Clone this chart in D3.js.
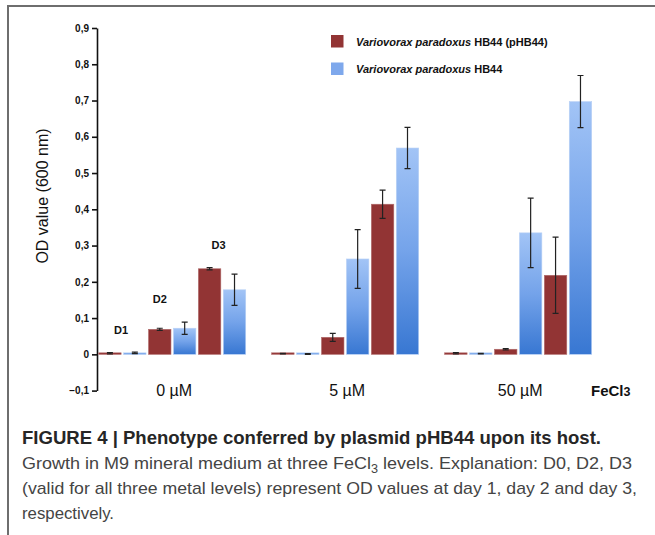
<!DOCTYPE html>
<html>
<head>
<meta charset="utf-8">
<script src="https://cdn.jsdelivr.net/npm/d3@7"></script>
<style>
  body { margin: 0; background: #fff; }
  svg { display: block; font-family: "Liberation Sans", Arial, sans-serif; }
</style>
</head>
<body>
<div id="chart"></div>
<script>
// data
const levels = ["0 µM", "5 µM", "50 µM"];
const days = ["D1", "D2", "D3"];
const strains = ["pHB44", "HB44"];
// mean OD per level, order: D1 pHB44, D1 HB44, D2 pHB44, D2 HB44, D3 pHB44, D3 HB44
const odMeans = [
    [0.003, 0.004, 0.069, 0.072, 0.236, 0.178],
    [0.002, 0.001, 0.047, 0.263, 0.414, 0.569],
    [0.003, 0.002, 0.014, 0.335, 0.218, 0.697]
];
const odErrors = [
    [0.002, 0.002, 0.003, 0.017, 0.003, 0.043],
    [0.001, 0.001, 0.011, 0.081, 0.039, 0.057],
    [0.002, 0.001, 0.002, 0.096, 0.105, 0.072]
];
const yTicks = [-0.1, 0, 0.1, 0.2, 0.3, 0.4, 0.5, 0.6, 0.7, 0.8, 0.9];
const legendLabels = [
    {italic: "Variovorax paradoxus", plain: " HB44 (pHB44)"},
    {italic: "Variovorax paradoxus", plain: " HB44"}
];
const captionTitle = "FIGURE 4 | Phenotype conferred by plasmid pHB44 upon its host.";

const width = 655;
const height = 535;

const svg = d3.select("#chart").append("svg")
    .attr("width", width)
    .attr("height", height)
    .attr("viewBox", [0, 0, width, height]);

const defs = svg.append("defs");
const grad = defs.append("linearGradient")
    .attr("id", "blueGrad")
    .attr("x1", 0).attr("y1", 0).attr("x2", 0).attr("y2", 1);
grad.append("stop").attr("offset", "0%").attr("stop-color", "#a2c4f6");
grad.append("stop").attr("offset", "50%").attr("stop-color", "#74a3ea");
grad.append("stop").attr("offset", "100%").attr("stop-color", "#3877d2");

// frame
svg.append("path")
    .attr("d", `M8,${height} V6 H${width}`)
    .attr("fill", "none")
    .attr("stroke", "#6e6e6e")
    .attr("stroke-width", 2);

// scales
const y = d3.scaleLinear()
    .domain([-0.1, 0.9])
    .range([390.6, 28]);

const x0 = d3.scaleBand()
    .domain(levels)
    .range([98.7, 591.7])
    .paddingInner(0.15)
    .paddingOuter(0);

const bars = days.flatMap(d => strains.map(s => d + "_" + s));
const x1 = d3.scaleBand()
    .domain(bars)
    .range([0, x0.bandwidth()])
    .paddingInner(0.1);

const barColor = s => s === "pHB44" ? "#923434" : "url(#blueGrad)";

// y axis
svg.append("g")
    .attr("transform", "translate(97,0)")
    .call(d3.axisLeft(y).tickValues(yTicks).tickSize(5).tickSizeOuter(0)
        .tickFormat(d => d3.format(".1f")(d).replace(".", ",").replace(/^0,0$/, "0").replace("-0,0", "0")))
    .call(g => g.select(".domain").attr("stroke", "#111").attr("stroke-width", 1.6))
    .call(g => g.selectAll(".tick line").attr("stroke", "#111").attr("stroke-width", 1.6))
    .call(g => g.selectAll(".tick text")
        .attr("font-family", "Liberation Sans, Arial, sans-serif")
        .attr("font-size", 10)
        .attr("font-weight", "bold")
        .attr("fill", "#111")
        .attr("x", -8));

svg.append("text")
    .attr("transform", `translate(48,196) rotate(-90)`)
    .attr("text-anchor", "middle")
    .attr("font-size", 16)
    .attr("fill", "#111")
    .text("OD value (600 nm)");

// bars
const flat = levels.flatMap((lv, i) => bars.map((b, j) => ({
    level: lv,
    key: b,
    strain: b.split("_")[1],
    value: odMeans[i][j],
    err: odErrors[i][j]
})));

const gBars = svg.append("g");
gBars.selectAll("rect")
    .data(flat)
    .join("rect")
    .attr("x", d => x0(d.level) + x1(d.key))
    .attr("width", x1.bandwidth())
    .attr("y", d => Math.min(y(d.value), y(0) - 1.5))
    .attr("height", d => Math.max(y(0) - y(d.value), 1.5))
    .attr("fill", d => barColor(d.strain))
    .attr("stroke", d => d.strain === "pHB44" ? "#b06a6a" : "#b9d1f5")
    .attr("stroke-width", 0.6);

// error bars
const gErr = svg.append("g")
    .attr("stroke", "#222")
    .attr("stroke-width", 1.2);
const cap = 3;
const errData = flat.filter(d => d.err > 0);
gErr.selectAll("path")
    .data(errData)
    .join("path")
    .attr("fill", "none")
    .attr("d", d => {
        const cx = x0(d.level) + x1(d.key) + x1.bandwidth() / 2;
        const t = y(d.value + d.err), b = y(d.value - d.err);
        return `M${cx - cap},${t} H${cx + cap} M${cx},${t} V${b} M${cx - cap},${b} H${cx + cap}`;
    });

// day labels over the 0 µM group
const dayOffsets = [1, 0.5, 0.9];
svg.append("g")
    .attr("font-size", 11)
    .attr("font-weight", "bold")
    .attr("fill", "#111")
    .attr("text-anchor", "middle")
    .selectAll("text")
    .data(days)
    .join("text")
    .attr("x", (d, i) => x0(levels[0]) + x1(d + "_pHB44") + x1.bandwidth() * dayOffsets[i])
    .attr("y", (d, i) => {
        const top = Math.max(odMeans[0][i * 2] + odErrors[0][i * 2], odMeans[0][i * 2 + 1] + odErrors[0][i * 2 + 1]);
        return y(top) - [18, 19, 19][i];
    })
    .text(d => d);

// x labels
svg.append("g")
    .attr("font-size", 16)
    .attr("fill", "#111")
    .attr("text-anchor", "middle")
    .selectAll("text")
    .data(levels)
    .join("text")
    .attr("x", d => x0(d) + x0.bandwidth() / 2 + 2)
    .attr("y", 396)
    .text(d => d);

const fe = svg.append("text")
    .attr("x", 591)
    .attr("y", 396)
    .attr("font-size", 15)
    .attr("font-weight", "bold")
    .attr("fill", "#111");
fe.append("tspan").text("FeCl");
fe.append("tspan").attr("font-size", 12.5).text("3");

// legend
const legend = svg.append("g")
    .selectAll("g")
    .data(strains)
    .join("g")
    .attr("transform", (d, i) => `translate(331,${35 + i * 27.5})`);
legend.append("rect")
    .attr("width", 12.5)
    .attr("height", 12.5)
    .attr("fill", d => d === "pHB44" ? "#923434" : "#7ea8ec");
const legendText = legend.append("text")
    .attr("x", 25)
    .attr("y", 10.5)
    .attr("font-size", 11)
    .attr("font-weight", "bold")
    .attr("fill", "#111");
legendText.append("tspan").attr("font-style", "italic").text((d, i) => legendLabels[i].italic);
legendText.append("tspan").text((d, i) => legendLabels[i].plain);

// caption
svg.append("text")
    .attr("x", 22)
    .attr("y", 444)
    .attr("font-size", 18)
    .attr("font-weight", "bold")
    .attr("fill", "#262626")
    .attr("textLength", 579)
    .attr("lengthAdjust", "spacingAndGlyphs")
    .text(captionTitle);

const capLines = [
    {y: 469, len: 610},
    {y: 494, len: 615},
    {y: 519, len: 92}
];
const l2 = svg.append("text")
    .attr("x", 22).attr("y", capLines[0].y)
    .attr("font-size", 17).attr("fill", "#444")
    .attr("textLength", capLines[0].len)
    .attr("lengthAdjust", "spacingAndGlyphs");
l2.append("tspan").text("Growth in M9 mineral medium at three FeCl");
l2.append("tspan").attr("font-size", 12).attr("dy", 4).text("3");
l2.append("tspan").attr("dy", -4).text(" levels. Explanation: D0, D2, D3");

svg.append("text")
    .attr("x", 22).attr("y", capLines[1].y)
    .attr("font-size", 17).attr("fill", "#444")
    .attr("textLength", capLines[1].len)
    .attr("lengthAdjust", "spacingAndGlyphs")
    .text("(valid for all three metal levels) represent OD values at day 1, day 2 and day 3,");

svg.append("text")
    .attr("x", 22).attr("y", capLines[2].y)
    .attr("font-size", 17).attr("fill", "#444")
    .attr("textLength", capLines[2].len)
    .attr("lengthAdjust", "spacingAndGlyphs")
    .text("respectively.");
</script>
</body>
</html>
